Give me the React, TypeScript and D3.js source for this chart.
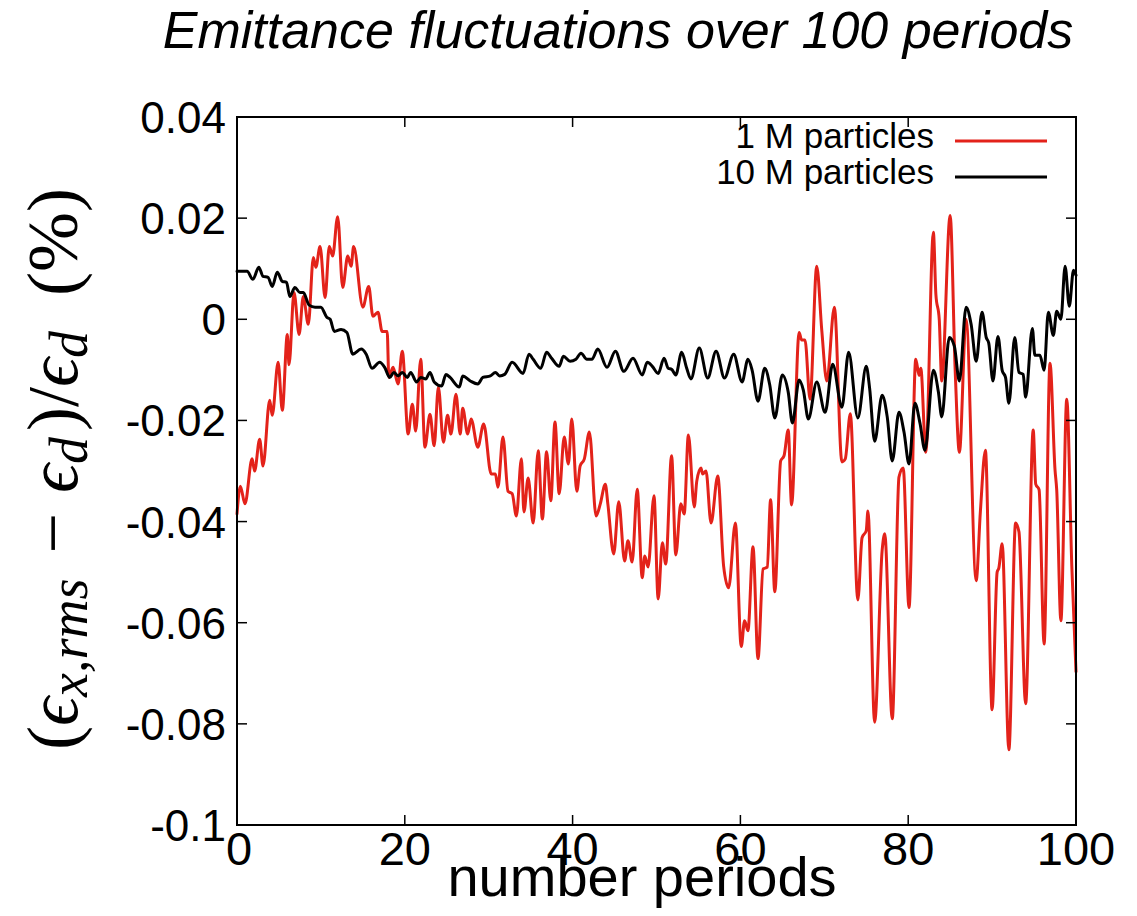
import React from 'react';
import * as d3 from 'd3';

// 1 M particles (red)
const redPeriods = [0, 0.4, 0.95, 1.8, 2.1, 2.7, 3.1, 3.9, 4.2, 4.9, 5.4, 6.0, 6.2, 6.8, 7.4, 7.9, 8.5, 9.1, 9.4, 9.9, 10.5, 11.0, 11.4, 12.0, 12.6, 13.2, 13.6, 13.9, 15.0, 15.7, 16.2, 16.8, 17.3, 17.9, 18.1, 18.6, 19.2, 19.7, 20.4, 20.9, 21.3, 21.9, 22.4, 23.0, 23.5, 24.0, 24.6, 25.1, 25.5, 26.1, 26.6, 26.9, 27.5, 27.9, 28.7, 29.4, 30.3, 30.8, 31.1, 31.7, 32.3, 32.8, 33.3, 33.9, 34.2, 34.7, 35.3, 35.9, 36.4, 36.9, 37.4, 37.9, 38.4, 39.0, 39.5, 39.9, 40.5, 40.9, 41.4, 42.0, 42.8, 43.3, 43.9, 44.2, 44.9, 45.5, 46.2, 46.6, 47.1, 47.7, 48.3, 48.6, 49.0, 49.7, 50.2, 50.7, 51.1, 51.8, 52.3, 52.9, 53.3, 53.8, 54.5, 54.8, 55.3, 55.5, 55.9, 56.5, 57.3, 58.0, 58.6, 59.4, 60.1, 60.5, 60.9, 61.5, 62.1, 62.7, 63.2, 63.6, 64.1, 64.8, 65.2, 65.7, 66.1, 67.0, 67.3, 67.7, 68.3, 69.1, 69.7, 70.3, 71.2, 72.1, 72.5, 73.1, 74.0, 74.5, 75.0, 75.2, 76.0, 76.9, 77.2, 78.1, 78.9, 79.4, 80.1, 80.9, 81.3, 81.5, 82.1, 83.0, 83.3, 83.7, 84.0, 85.0, 85.6, 86.1, 86.9, 88.1, 88.6, 89.2, 90.0, 90.6, 90.8, 91.2, 92.0, 92.8, 93.2, 94.0, 94.9, 95.2, 95.6, 96.2, 96.9, 97.5, 97.7, 98.2, 98.9, 99.5, 100];
const redValues = [-0.0385, -0.033, -0.0365, -0.0276, -0.030, -0.0237, -0.029, -0.016, -0.019, -0.0085, -0.018, -0.003, -0.009, 0.0053, -0.003, 0.0045, -0.001, 0.0122, 0.0103, 0.0144, 0.0043, 0.0144, 0.0125, 0.0203, 0.0063, 0.0125, 0.0105, 0.0144, 0.0024, 0.0065, 0.0006, 0.0014, -0.0024, -0.0024, -0.0115, -0.0095, -0.0128, -0.0063, -0.0227, -0.0168, -0.0221, -0.0079, -0.0253, -0.0188, -0.025, -0.0134, -0.0243, -0.019, -0.0227, -0.0148, -0.0227, -0.0176, -0.0227, -0.0197, -0.0253, -0.0207, -0.0306, -0.0306, -0.0332, -0.0233, -0.034, -0.0345, -0.0389, -0.0276, -0.0381, -0.0314, -0.0403, -0.026, -0.0395, -0.0262, -0.0359, -0.0203, -0.0345, -0.0233, -0.0286, -0.0197, -0.034, -0.029, -0.0276, -0.0223, -0.0389, -0.0365, -0.0326, -0.0365, -0.0464, -0.0361, -0.0478, -0.0438, -0.048, -0.0336, -0.0511, -0.0468, -0.049, -0.0349, -0.0553, -0.0442, -0.0484, -0.027, -0.0466, -0.0365, -0.0385, -0.0229, -0.0371, -0.032, -0.0294, -0.0306, -0.030, -0.0403, -0.031, -0.0488, -0.0531, -0.0403, -0.0647, -0.0596, -0.0616, -0.045, -0.0671, -0.0494, -0.049, -0.0357, -0.0539, -0.028, -0.027, -0.0219, -0.0367, -0.0026, -0.0041, -0.0041, -0.0158, 0.0105, -0.0022, -0.0122, 0.0024, -0.0282, -0.0276, -0.0187, -0.0555, -0.0432, -0.0418, -0.0379, -0.0797, -0.0456, -0.0424, -0.079, -0.0312, -0.0294, -0.057, -0.0079, -0.0111, -0.0097, -0.0263, 0.0172, 0.0049, 0.0, -0.0122, 0.0205, -0.0101, -0.0263, 0.0, -0.0517, -0.0381, -0.0259, -0.0772, -0.05, -0.0492, -0.0444, -0.0851, -0.0403, -0.042, -0.076, -0.0219, -0.0326, -0.0337, -0.0642, -0.0087, -0.0298, -0.0337, -0.0596, -0.0158, -0.0488, -0.0697];

// 10 M particles (black)
const blackPeriods = [0, 1.2, 1.9, 2.6, 3.1, 3.7, 4.2, 4.8, 5.4, 5.9, 6.3, 6.9, 7.5, 7.9, 8.6, 9.3, 10.0, 10.7, 11.1, 11.6, 12.4, 13.1, 13.8, 14.8, 15.4, 16.1, 17.0, 17.6, 18.2, 18.7, 19.2, 19.7, 20.3, 20.7, 21.4, 21.9, 22.5, 23.0, 23.5, 24.4, 24.9, 25.4, 26.5, 26.9, 27.8, 28.7, 29.3, 30.2, 30.8, 31.3, 31.9, 32.8, 34.1, 34.8, 35.3, 36.2, 36.9, 37.5, 38.4, 38.9, 39.7, 40.4, 41.0, 41.7, 42.3, 43.0, 44.1, 45.1, 46.1, 47.2, 48.3, 48.9, 49.5, 50.2, 50.9, 51.4, 51.8, 52.3, 53.0, 53.6, 54.1, 55.1, 56.1, 57.1, 58.1, 59.2, 60.2, 60.9, 61.4, 62.1, 62.9, 63.5, 64.1, 65.0, 65.7, 66.2, 67.0, 67.5, 68.1, 69.1, 70.1, 71.0, 72.1, 72.9, 74.0, 75.0, 75.4, 76.0, 76.9, 77.5, 78.1, 78.9, 79.5, 80.1, 80.8, 81.4, 82.0, 83.0, 83.6, 84.0, 84.9, 85.5, 86.1, 86.9, 87.5, 88.1, 88.8, 89.3, 89.6, 90.1, 90.7, 91.2, 91.6, 92.0, 92.7, 93.2, 93.7, 94.0, 94.8, 95.1, 95.7, 96.2, 96.7, 97.3, 97.7, 98.2, 98.7, 99.2, 99.7, 100];
const blackValues = [0.0095, 0.0095, 0.0079, 0.0103, 0.0085, 0.0083, 0.0065, 0.0093, 0.0075, 0.0073, 0.0045, 0.0063, 0.0053, 0.0053, 0.0028, 0.0024, 0.0024, 0.0004, 0.0, -0.0024, -0.002, -0.0026, -0.0069, -0.0059, -0.0069, -0.0097, -0.0085, -0.0095, -0.0115, -0.0105, -0.0112, -0.0105, -0.0115, -0.0105, -0.0124, -0.0115, -0.0118, -0.0105, -0.0124, -0.0132, -0.0109, -0.0115, -0.0134, -0.0112, -0.0122, -0.0128, -0.0115, -0.0112, -0.0105, -0.0112, -0.0109, -0.0085, -0.0107, -0.0069, -0.0079, -0.0097, -0.0065, -0.0077, -0.0093, -0.0073, -0.0083, -0.0079, -0.0067, -0.0079, -0.0079, -0.0059, -0.0095, -0.0063, -0.0103, -0.0077, -0.011, -0.0085, -0.0093, -0.0107, -0.0077, -0.0097, -0.0099, -0.011, -0.0065, -0.0097, -0.0118, -0.0057, -0.0116, -0.0063, -0.0116, -0.0069, -0.0124, -0.0079, -0.0101, -0.0162, -0.0097, -0.013, -0.0195, -0.011, -0.0144, -0.0205, -0.012, -0.014, -0.0197, -0.0124, -0.0184, -0.0089, -0.0174, -0.0065, -0.0195, -0.0093, -0.0136, -0.0241, -0.015, -0.0193, -0.028, -0.0184, -0.0223, -0.0286, -0.0166, -0.0205, -0.0259, -0.0101, -0.0144, -0.0193, -0.0036, -0.0053, -0.0122, 0.0024, -0.001, -0.0083, 0.0014, -0.0036, -0.0047, -0.0122, -0.0034, -0.0101, -0.0115, -0.0166, -0.0036, -0.0105, -0.0109, -0.0154, -0.0018, -0.0071, -0.0071, -0.0101, 0.0014, -0.0032, 0.0016, 0.0, 0.0105, 0.0026, 0.0097, 0.0087];

const xTicks = [0, 20, 40, 60, 80, 100];
const yTicks = [0.04, 0.02, 0, -0.02, -0.04, -0.06, -0.08, -0.1];
const yTickLabels = ['0.04', '0.02', '0', '-0.02', '-0.04', '-0.06', '-0.08', '-0.1'];
const seriesNames = ['1 M particles', '10 M particles'];
const seriesColors = ['#e3221a', '#000000'];
const titleText = 'Emittance fluctuations over 100 periods';
const xLabelText = 'number periods';

export default function App() {
  const W = 1137, H = 916;
  const left = 237, right = 1076, top = 117, bottom = 825;
  const x = d3.scaleLinear().domain([0, 100]).range([left, right]);
  const y = d3.scaleLinear().domain([-0.1, 0.04]).range([bottom, top]);
  const line = d3.line<[number, number]>()
    .x(d => x(d[0]))
    .y(d => y(d[1]))
    .curve(d3.curveMonotoneX);
  const redPts = redPeriods.map((p, i) => [p, redValues[i]] as [number, number]);
  const blackPts = blackPeriods.map((p, i) => [p, blackValues[i]] as [number, number]);
  const series = [redPts, blackPts];
  const sans = "'Liberation Sans', Arial, Helvetica, sans-serif";
  const serif = "'Liberation Serif', 'DejaVu Serif', serif";
  const tickLen = 10;

  return (
    <svg width={W} height={H} viewBox={`0 0 ${W} ${H}`}
      style={{ position: 'absolute', left: 0, top: 0, background: '#fff' }}>
      <rect x={0} y={0} width={W} height={H} fill="#fff" />
      {/* Title */}
      <text x={618} y={48} textAnchor="middle" fontFamily={sans} fontStyle="italic" fontSize={52} fill="#000">{titleText}</text>

      {/* Series */}
      <g fill="none" strokeWidth={3} strokeLinejoin="round" strokeLinecap="round">
        {series.map((pts, i) => (
          <path key={i} d={line(pts) || ''} stroke={seriesColors[i]} />
        ))}
      </g>

      {/* Frame */}
      <rect x={left} y={top} width={right - left} height={bottom - top} fill="none" stroke="#000" strokeWidth={2} />

      {/* Ticks */}
      <g stroke="#000" strokeWidth={1.5}>
        {yTicks.map((v, i) => (
          <g key={'yt' + i}>
            <line x1={left} x2={left + tickLen} y1={y(v)} y2={y(v)} />
            <line x1={right} x2={right - tickLen} y1={y(v)} y2={y(v)} />
          </g>
        ))}
        {xTicks.map((v, i) => (
          <g key={'xt' + i}>
            <line x1={x(v)} x2={x(v)} y1={bottom} y2={bottom - tickLen} />
            <line x1={x(v)} x2={x(v)} y1={top} y2={top + tickLen} />
          </g>
        ))}
      </g>

      {/* Y tick labels */}
      <g fontFamily={sans} fontSize={44} fill="#000" textAnchor="end">
        {yTicks.map((v, i) => (
          <text key={'yl' + i} x={226} y={y(v) + 16}>{yTickLabels[i]}</text>
        ))}
      </g>
      {/* X tick labels */}
      <g fontFamily={sans} fontSize={47} fill="#000" textAnchor="middle">
        {xTicks.map((v, i) => (
          <text key={'xl' + i} x={x(v) + (i === 0 ? 2 : 0)} y={865}>{String(v)}</text>
        ))}
      </g>

      {/* X axis label */}
      <text x={642} y={896} textAnchor="middle" fontFamily={sans} fontSize={56} fill="#000">{xLabelText}</text>

      {/* Y axis label */}
      <text transform="translate(77,469) rotate(-90)" textAnchor="middle" fontFamily={serif} fontSize={72} fill="#000">
        <tspan>(</tspan>
        <tspan fontStyle="italic">ϵ</tspan>
        <tspan fontStyle="italic" fontSize={54} dy={10}>x,rms</tspan>
        <tspan dy={-10} dx={25}>−</tspan>
        <tspan fontStyle="italic" dx={20}>ϵ</tspan>
        <tspan fontStyle="italic" fontSize={54} dy={10}>d</tspan>
        <tspan dy={-10} dx={6}>)/</tspan>
        <tspan fontStyle="italic">ϵ</tspan>
        <tspan fontStyle="italic" fontSize={54} dy={10}>d</tspan>
        <tspan dy={-10} dx={35}>(%)</tspan>
      </text>

      {/* Legend */}
      <g fontFamily={sans} fontSize={35} fill="#000" textAnchor="end">
        {seriesNames.map((name, i) => (
          <g key={'lg' + i}>
            <text x={934} y={148 + i * 36}>{name}</text>
            <line x1={955} x2={1047} y1={141 + i * 36} y2={141 + i * 36} stroke={seriesColors[i]} strokeWidth={3} />
          </g>
        ))}
      </g>
    </svg>
  );
}
